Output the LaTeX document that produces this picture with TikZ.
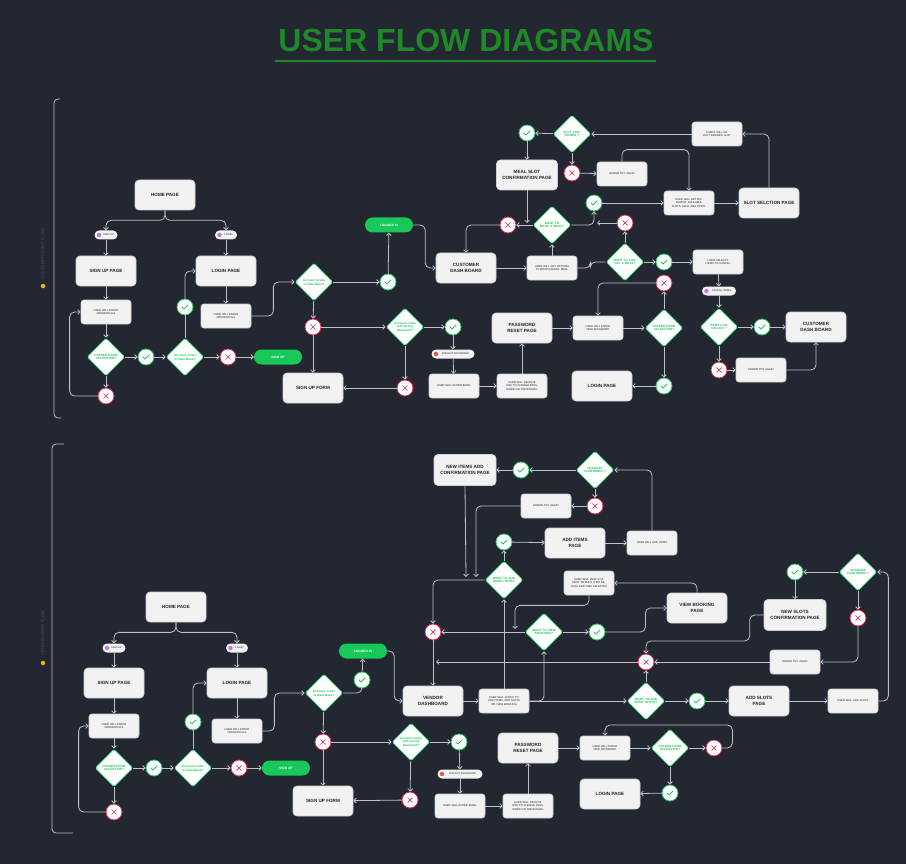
\documentclass[tikz,border=0pt]{standalone}
\usepackage{fontspec}
\setmainfont{Liberation Sans}
\usetikzlibrary{shapes.geometric,arrows.meta}
\definecolor{bg}{RGB}{34,39,50}
\definecolor{titlegreen}{RGB}{31,136,40}
\definecolor{boxfill}{RGB}{242,242,243}
\definecolor{boxline}{RGB}{205,207,212}
\definecolor{boxtext}{RGB}{32,34,40}
\definecolor{okgreen}{RGB}{34,197,94}
\definecolor{nored}{RGB}{226,36,78}
\definecolor{pillgreen}{RGB}{24,200,88}
\definecolor{linegray}{RGB}{190,193,200}
\definecolor{dotpurple}{RGB}{182,122,232}
\definecolor{dotred}{RGB}{236,84,84}
\definecolor{labelgray}{RGB}{62,67,80}
\definecolor{iconyellow}{RGB}{232,182,30}
\begin{document}
\begin{tikzpicture}[x=1pt,y=-1pt,
  bigbox/.style={rectangle, rounded corners=4pt, fill=boxfill, draw=boxline, line width=0.7pt, minimum width=60pt, minimum height=30pt, inner sep=1pt, align=center, text=boxtext, font=\bfseries\fontsize{4.6}{6.4}\selectfont},
  smallbox/.style={rectangle, rounded corners=3pt, fill=boxfill, draw=boxline, line width=0.7pt, minimum width=50pt, minimum height=24pt, text width=44pt, inner sep=1pt, align=center, text=boxtext, font=\fontsize{2.7}{3.4}\selectfont},
  dia/.style={diamond, aspect=1, minimum size=38pt, inner sep=0pt, fill=white, draw=okgreen, line width=0.8pt, text width=26pt, align=center, text=okgreen, font=\bfseries\fontsize{3.1}{3.8}\selectfont, rounded corners=1.5pt},
  okc/.style={circle, minimum size=16pt, inner sep=0pt, fill=white, draw=okgreen, line width=0.8pt,
    path picture={\draw[okgreen,line width=0.8pt,line cap=round,line join=round] ([shift={(-3.2pt,0.2pt)}]path picture bounding box.center) -- ++(2.2pt,-2.2pt) -- ++(4.2pt,4.2pt);}},
  noc/.style={circle, minimum size=16pt, inner sep=0pt, fill=white, draw=nored, line width=0.8pt,
    path picture={\draw[nored,line width=0.7pt,line cap=round] ([shift={(-2.4pt,-2.4pt)}]path picture bounding box.center) -- ++(4.8pt,4.8pt) ([shift={(-2.4pt,2.4pt)}]path picture bounding box.center) -- ++(4.8pt,-4.8pt);}},
  gpill/.style={rectangle, rounded corners=7.5pt, fill=pillgreen, minimum width=48pt, minimum height=15pt, inner sep=0pt, text=white, font=\bfseries\fontsize{3.2}{4}\selectfont},
  tag/.style={rectangle, rounded corners=4.5pt, fill=boxfill, minimum height=9pt, inner sep=0pt, text=boxtext, font=\fontsize{2.6}{3}\selectfont},
  tagdot/.style={path picture={\fill[#1] ([xshift=4.5pt]path picture bounding box.west) circle (2.2pt);}},
  conn/.style={draw=linegray, line width=0.8pt, rounded corners=5pt, -{Straight Barb[length=2.4pt,width=4.8pt]}},
  plain/.style={draw=linegray, line width=0.8pt, rounded corners=5pt},
  bracket/.style={draw=linegray, line width=0.8pt, rounded corners=4pt},
  sidelabel/.style={rotate=90, text=labelgray, font=\bfseries\fontsize{4.3}{5}\selectfont},
  icon/.style={circle, fill=iconyellow, minimum size=4.5pt, inner sep=0pt}
]
\fill[bg] (0,0) rectangle (906,864);
\useasboundingbox (0,0) rectangle (906,864);

% title
\node[anchor=base, text=titlegreen, font=\bfseries\fontsize{32}{36}\selectfont] (title) at (466,52) {USER FLOW DIAGRAMS};
\draw[titlegreen, line width=2pt] (275,61) -- (656,61);

% brackets and side labels
\draw[bracket] (60,99) -| (54,418) -- (61,418);
\node[sidelabel] (T-lab) at (43,254) {CUSTOMER USER FLOW};
\node[icon] (T-icon) at (43,286) {};
\draw[bracket] (64,444) -| (52,833) -- (73,833);
\node[sidelabel] (B-lab) at (43,633) {VENDOR USER FLOW};
\node[icon] (B-icon) at (43,663) {};

% ================= TOP: CUSTOMER =================
\node[bigbox] (T-home) at (165,195) {HOME PAGE};
\node[tag,tagdot=dotpurple,minimum width=23pt] (T-pSU) at (106,235) {\hspace*{5pt}SIGN UP};
\node[tag,tagdot=dotpurple,minimum width=22pt] (T-pLI) at (226,235) {\hspace*{5pt}LOGIN};
\node[bigbox] (T-sup) at (106,271) {SIGN UP PAGE};
\node[bigbox] (T-lip) at (226,271) {LOGIN PAGE};
\node[smallbox] (T-cr1) at (106,312) {USER WILL ENTER\\CREDENTIALS};
\node[dia] (T-val) at (106,357) {PASSED FORM VALIDATION?};
\node[okc] (T-ok1) at (146,357) {};
\node[dia] (T-acc1) at (185,357) {Account exists in Data Base?};
\node[noc] (T-no1) at (228,357) {};
\node[gpill] (T-supill) at (278,357) {SIGN UP};
\node[noc] (T-no2) at (106,396) {};
\node[okc] (T-ok2) at (185,307) {};
\node[smallbox] (T-cr2) at (226,316) {USER WILL ENTER\\CREDENTIALS};
\node[dia] (T-acc2) at (314,282) {Account exists in Data Base?};
\node[okc] (T-ok3) at (388,282) {};
\node[gpill] (T-logged) at (389,225) {LOGGED IN};
\node[bigbox] (T-dash) at (466,268) {CUSTOMER\\DASH BOARD};
\node[noc] (T-no3) at (313,327) {};
\node[dia] (T-wrong) at (405,327) {Account exists with wrong password?};
\node[okc] (T-ok4) at (453,327) {};
\node[tag,tagdot=dotred,minimum width=43pt] (T-forgot) at (453,354) {\hspace*{5pt}FORGOT PASSWORD};
\node[smallbox] (T-email) at (454,386) {USER WILL ENTER EMAIL};
\node[smallbox] (T-link) at (522,386) {USER WILL RECEIVE LINK TO CHANGE PASSWORD ON THEIR EMAIL};
\node[bigbox] (T-reset) at (522,328) {PASSWORD\\RESET PAGE};
\node[noc] (T-no4) at (405,388) {};
\node[bigbox] (T-form) at (313,388) {SIGN UP FORM};
\node[smallbox] (T-opts) at (552,268) {USER WILL GET OPTIONS TO BOOK/CANCEL MEAL};
\node[dia] (T-book) at (552,225) {WANT TO BOOK A MEAL?};
\node[noc] (T-no5) at (508,225) {};
\node[okc] (T-ok5) at (594,203) {};
\node[smallbox] (T-avail) at (689,203) {USER WILL GET DIFFERENT AVAILABLE SLOTS, MEAL AND PRICE.};
\node[bigbox] (T-slot) at (769,203) {SLOT SELCTION PAGE};
\node[smallbox] (T-select) at (717,134) {USERS WILL SELECT DESIRED SLOT};
\node[dia] (T-conf) at (572,134) {SLOT CONFIRMED ?};
\node[okc] (T-ok6) at (527,133) {};
\node[bigbox,minimum width=61pt] (T-meal) at (527,175) {MEAL SLOT\\CONFIRMATION PAGE};
\node[noc] (T-no6) at (572,173) {};
\node[smallbox] (T-err1) at (622,174) {ERROR TRY AGAIN};
\node[dia] (T-cancel) at (625,262) {WANT TO CANCEL A MEAL?};
\node[noc] (T-no7) at (625,223) {};
\node[okc] (T-ok7) at (664,262) {};
\node[smallbox] (T-items) at (718,262) {USER SELECTS ITEMS TO CANCEL};
\node[tag,tagdot=dotpurple,minimum width=34pt] (T-pCI) at (719,291) {\hspace*{5pt}CANCEL ITEMS};
\node[dia] (T-icanc) at (719,327) {ITEMS CANCELLED ?};
\node[okc] (T-ok8) at (762,327) {};
\node[bigbox] (T-dash2) at (816,327) {CUSTOMER\\DASH BOARD};
\node[noc] (T-no8) at (719,370) {};
\node[smallbox] (T-err2) at (761,370) {ERROR TRY AGAIN};
\node[smallbox] (T-newpw) at (598,328) {USER WILL ENTER NEW PASSWORD};
\node[dia] (T-pval) at (664,328) {PASSED FORM VALIDATION?};
\node[noc] (T-no9) at (664,283) {};
\node[okc] (T-ok9) at (664,386) {};
\node[bigbox] (T-login2) at (602,386) {LOGIN PAGE};
\coordinate (T-m1) at (527,223);
\coordinate (T-m2) at (597,223);

\draw[conn] (T-home.south) -- ++(0,10) -| (T-pSU.north);
\draw[conn] (T-home.south) -- ++(0,10) -| (T-pLI.north);
\draw[conn] (T-pSU) -- (T-sup);
\draw[conn] (T-pLI) -- (T-lip);
\draw[conn] (T-sup) -- (T-cr1);
\draw[conn] (T-cr1) -- (T-val);
\draw[conn] (T-val) -- (T-ok1);
\draw[conn] (T-ok1) -- (T-acc1);
\draw[conn] (T-acc1) -- (T-no1);
\draw[conn] (T-no1) -- (T-supill);
\draw[conn] (T-val) -- (T-no2);
\draw[conn] (T-no2.west) -- ++(-28,0) |- (T-cr1.west);
\draw[plain] (T-acc1) -- (T-ok2);
\draw[conn] (T-ok2.north) |- (T-lip.west);
\draw[conn] (T-lip) -- (T-cr2);
\draw[conn] (T-cr2.east) -- ++(22,0) |- (T-acc2.west);
\draw[conn] (T-acc2) -- (T-ok3);
\draw[conn] (T-ok3) -- (T-logged);
\draw[conn] (T-logged.east) -- ++(12,0) |- (T-dash.west);
\draw[conn] (T-acc2) -- (T-no3);
\draw[conn] (T-no3) -- (T-form);
\draw[conn] (T-no3) -- (T-wrong);
\draw[conn] (T-wrong) -- (T-ok4);
\draw[conn] (T-ok4) -- (T-forgot);
\draw[conn] (T-forgot) -- (T-email);
\draw[conn] (T-email) -- (T-link);
\draw[conn] (T-link) -- (T-reset);
\draw[conn] (T-wrong) -- (T-no4);
\draw[conn] (T-no4) -- (T-form);
\draw[conn] (T-dash) -- (T-opts);
\draw[conn] (T-opts) -- (T-book);
\draw[conn] (T-book) -- (T-no5);
\draw[conn] (T-no5.west) -| (T-dash.north);
\draw[conn] (T-meal) -- (T-m1);
\draw[conn] (T-book.east) -| (T-ok5.south);
\draw[conn] (T-ok5) -- (T-avail);
\draw[conn] (T-avail) -- (T-slot);
\draw[conn] (T-slot.north) |- (T-select.east);
\draw[conn] (T-select) -- (T-conf);
\draw[conn] (T-conf) -- (T-ok6);
\draw[conn] (T-ok6) -- (T-meal);
\draw[conn] (T-conf) -- (T-no6);
\draw[conn] (T-no6) -- (T-err1);
\draw[conn] (T-err1.north) -- ++(0,-12) -| (T-avail.north);
\draw[plain] (T-opts.east) -- ++(13,0) |- (T-cancel.west);
\draw[conn] (T-cancel) -- (T-no7);
\draw[conn] (T-no7) -- (T-m2);
\draw[conn] (T-cancel) -- (T-ok7);
\draw[conn] (T-ok7) -- (T-items);
\draw[conn] (T-items) -- (T-pCI);
\draw[conn] (T-pCI) -- (T-icanc);
\draw[conn] (T-icanc) -- (T-ok8);
\draw[conn] (T-ok8) -- (T-dash2);
\draw[conn] (T-icanc) -- (T-no8);
\draw[conn] (T-no8) -- (T-err2);
\draw[conn] (T-err2.east) -| (T-dash2.south);
\draw[conn] (T-reset) -- (T-newpw);
\draw[conn] (T-newpw) -- (T-pval);
\draw[conn] (T-pval) -- (T-no9);
\draw[conn] (T-no9.west) -| (T-newpw.north);
\draw[conn] (T-pval) -- (T-ok9);
\draw[conn] (T-ok9) -- (T-login2);

% ================= BOTTOM: VENDOR =================
\node[bigbox] (B-home) at (176,607) {HOME PAGE};
\node[tag,tagdot=dotpurple,minimum width=23pt] (B-pSU) at (114,648) {\hspace*{5pt}SIGN UP};
\node[tag,tagdot=dotpurple,minimum width=22pt] (B-pLI) at (237,648) {\hspace*{5pt}LOGIN};
\node[bigbox] (B-sup) at (114,683) {SIGN UP PAGE};
\node[bigbox] (B-lip) at (237,683) {LOGIN PAGE};
\node[smallbox] (B-cr1) at (114,726) {USER WILL ENTER\\CREDENTIALS};
\node[dia] (B-val) at (114,768) {PASSED FORM VALIDATION?};
\node[okc] (B-ok1) at (154,768) {};
\node[dia] (B-acc1) at (193,768) {Account exists in Data Base?};
\node[noc] (B-no1) at (239,768) {};
\node[gpill] (B-supill) at (286,768) {SIGN UP};
\node[noc] (B-no2) at (114,812) {};
\node[okc] (B-ok2) at (193,722) {};
\node[smallbox] (B-cr2) at (237,731) {USER WILL ENTER\\CREDENTIALS};
\node[dia] (B-acc2) at (324,693) {Account exists in Data Base?};
\node[okc] (B-ok3) at (362,680) {};
\node[gpill] (B-logged) at (363,651) {LOGGED IN};
\node[bigbox] (B-vdash) at (433,701) {VENDOR\\DASHBOARD};
\node[noc] (B-no3) at (323,742) {};
\node[dia] (B-wrong) at (411,742) {Account exists with wrong password?};
\node[okc] (B-ok4) at (459,742) {};
\node[tag,tagdot=dotred,minimum width=45pt] (B-forgot) at (460,774) {\hspace*{5pt}FORGOT PASSWORD};
\node[smallbox] (B-email) at (460,806) {USER WILL ENTER EMAIL};
\node[smallbox] (B-link) at (528,806) {USER WILL RECEIVE LINK TO CHANGE PASSWORD ON THEIR EMAIL};
\node[bigbox] (B-reset) at (528,748) {PASSWORD\\RESET PAGE};
\node[noc] (B-no4) at (410,800) {};
\node[bigbox] (B-form) at (323,801) {SIGN UP FORM};
\node[smallbox] (B-check) at (504,701) {USER WILL CHECK TO ADD ITEMS, ADD SLOTS OR VIEW BOOKING};
\node[smallbox] (B-newpw) at (605,748) {USER WILL ENTER NEW PASSWORD};
\node[dia] (B-pval) at (670,748) {PASSED FORM VALIDATION?};
\node[noc] (B-no9) at (714,748) {};
\node[okc] (B-ok9) at (670,793) {};
\node[bigbox] (B-login2) at (610,794) {LOGIN PAGE};
\node[noc] (B-no5) at (433,632) {};
\node[dia] (B-view) at (544,632) {WANT TO VIEW BOOKINGS?};
\node[okc] (B-ok5) at (597,632) {};
\node[dia] (B-more) at (504,580) {WANT TO ADD MORE ITEMS?};
\node[smallbox] (B-stud) at (589,583) {USER WILL VIEW STUDENT DETAILS, ITEM DETAILS AND TIME SELECTED};
\node[bigbox] (B-vbp) at (697,608) {VIEW BOOKING\\PAGE};
\node[okc] (B-ok6) at (504,542) {};
\node[bigbox] (B-additems) at (575,543) {ADD ITEMS\\PAGE};
\node[smallbox] (B-uadd) at (652,543) {USER WILL ADD ITEMS};
\node[dia] (B-conf1) at (595,470) {CHANGES CONFIRMED ?};
\node[okc] (B-ok7) at (521,470) {};
\node[bigbox,minimum width=62pt,minimum height=31pt] (B-newitems) at (465,470) {NEW ITEMS ADD\\CONFIRMATION PAGE};
\node[noc] (B-no7) at (595,506) {};
\node[smallbox] (B-err1) at (546,506) {ERROR TRY AGAIN};
\node[dia] (B-slots) at (646,701) {WANT TO ADD MORE SLOTS?};
\node[okc] (B-ok8) at (697,701) {};
\node[bigbox] (B-addslots) at (759,701) {ADD SLOTS\\PAGE};
\node[smallbox] (B-uslots) at (853,701) {USER WILL ADD SLOTS};
\node[dia] (B-conf2) at (858,572) {CHANGES CONFIRMED ?};
\node[okc] (B-ok10) at (795,572) {};
\node[bigbox,minimum width=62pt,minimum height=31pt] (B-newslots) at (795,615) {NEW SLOTS\\CONFIRMATION PAGE};
\node[noc] (B-no10) at (858,618) {};
\node[smallbox] (B-err2) at (795,662) {ERROR TRY AGAIN};
\node[noc] (B-no11) at (646,662) {};
\coordinate (B-m1) at (436,662);
\coordinate (B-m2) at (476,577);
\coordinate (B-m3) at (466,577);
\coordinate (B-m4) at (515,629);

\draw[conn] (B-home.south) -- ++(0,10) -| (B-pSU.north);
\draw[conn] (B-home.south) -- ++(0,10) -| (B-pLI.north);
\draw[conn] (B-pSU) -- (B-sup);
\draw[conn] (B-pLI) -- (B-lip);
\draw[conn] (B-sup) -- (B-cr1);
\draw[conn] (B-cr1) -- (B-val);
\draw[conn] (B-val) -- (B-ok1);
\draw[conn] (B-ok1) -- (B-acc1);
\draw[conn] (B-acc1) -- (B-no1);
\draw[conn] (B-no1) -- (B-supill);
\draw[conn] (B-val) -- (B-no2);
\draw[conn] (B-no2.west) -- ++(-27,0) |- (B-cr1.west);
\draw[plain] (B-acc1) -- (B-ok2);
\draw[conn] (B-ok2.north) |- (B-lip.west);
\draw[conn] (B-lip) -- (B-cr2);
\draw[conn] (B-cr2.east) -- ++(12,0) |- (B-acc2.west);
\draw[plain] (B-acc2.east) -| (B-ok3.south);
\draw[conn] (B-ok3) -- (B-logged);
\draw[conn] (B-logged.east) -- ++(7,0) |- (B-vdash.west);
\draw[conn] (B-acc2) -- (B-no3);
\draw[conn] (B-no3) -- (B-form);
\draw[conn] (B-no3) -- (B-wrong);
\draw[conn] (B-wrong) -- (B-ok4);
\draw[conn] (B-ok4) -- (B-forgot);
\draw[conn] (B-forgot) -- (B-email);
\draw[conn] (B-email) -- (B-link);
\draw[conn] (B-link) -- (B-reset);
\draw[conn] (B-wrong) -- (B-no4);
\draw[conn] (B-no4) -- (B-form);
\draw[conn] (B-reset) -- (B-newpw);
\draw[conn] (B-newpw) -- (B-pval);
\draw[conn] (B-pval) -- (B-no9);
\draw[conn] (B-no9.east) -- ++(10,0) -- ++(0,-23) -| (B-newpw.north);
\draw[conn] (B-pval) -- (B-ok9);
\draw[conn] (B-ok9) -- (B-login2);
\draw[conn] (B-vdash) -- (B-check);
\draw[conn] (B-no5) -- (B-vdash);
\draw[conn] (B-check.north) -- (B-more.south);
\draw[conn] (B-check.east) -| (B-view.south);
\draw[conn] (B-check.east) -- (B-slots.west);
\draw[conn] (B-more.west) -| (B-no5.north);
\draw[conn] (B-view) -- (B-no5);
\draw[conn] (B-view) -- (B-ok5);
\draw[conn] (B-ok5.east) -- ++(40,0) |- (B-vbp.west);
\draw[conn] (B-vbp.north) |- (B-stud.east);
\draw[conn] (B-stud.south) -- ++(0,10) -| (B-m4);
\draw[conn] (B-more) -- (B-ok6);
\draw[conn] (B-ok6) -- (B-additems);
\draw[conn] (B-additems) -- (B-uadd);
\draw[conn] (B-uadd.north) |- (B-conf1.east);
\draw[conn] (B-conf1) -- (B-ok7);
\draw[conn] (B-ok7) -- (B-newitems);
\draw[conn] (B-conf1) -- (B-no7);
\draw[conn] (B-no7) -- (B-err1);
\draw[conn] (B-err1.west) -| (B-m2);
\draw[conn] (B-newitems.south) -- (B-m3);
\draw[conn] (B-slots) -- (B-ok8);
\draw[conn] (B-ok8) -- (B-addslots);
\draw[conn] (B-addslots) -- (B-uslots);
\draw[conn] (B-uslots.east) -- ++(10,0) |- (B-conf2.east);
\draw[conn] (B-conf2) -- (B-ok10);
\draw[conn] (B-ok10) -- (B-newslots);
\draw[conn] (B-conf2) -- (B-no10);
\draw[conn] (B-no10.south) |- (B-err2.east);
\draw[conn] (B-err2) -- (B-no11);
\draw[conn] (B-newslots.west) -- ++(-14,0) -- ++(0,26) -| (B-no11.north);
\draw[conn] (B-slots) -- (B-no11);
\draw[conn] (B-no11) -- (B-m1);
\end{tikzpicture}
\end{document}
